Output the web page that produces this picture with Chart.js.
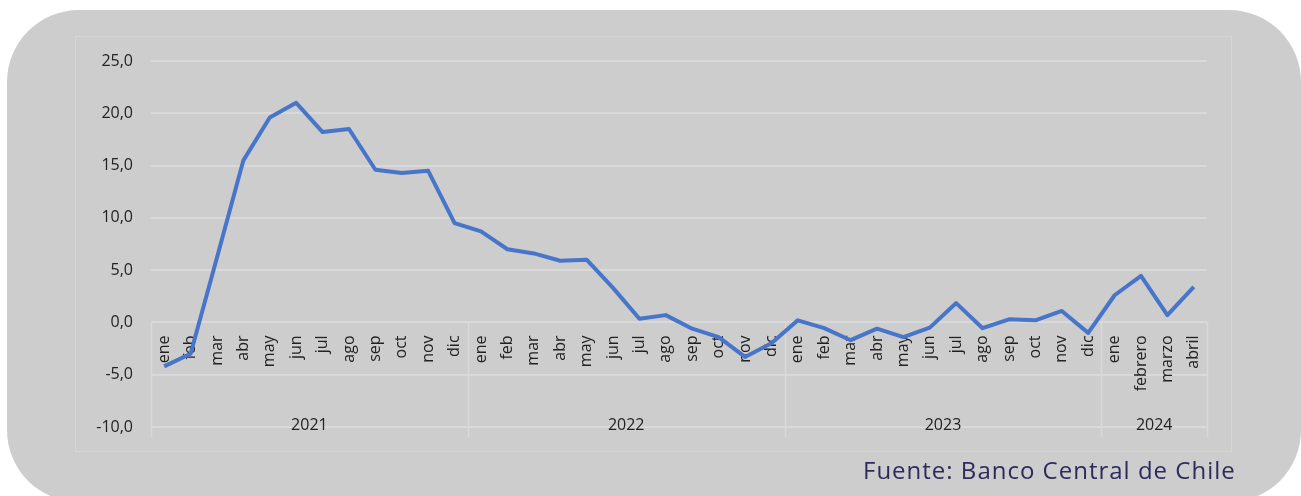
<!DOCTYPE html>
<html lang="es">
<head>
<meta charset="utf-8">
<title>Variación anual</title>
<script src="https://cdn.jsdelivr.net/npm/chart.js@4.4.1/dist/chart.umd.min.js"></script>
<style>
  html, body { margin: 0; padding: 0; background: #fff; width: 1301px; height: 496px; overflow: hidden; }
  .fondo { position: absolute; left: 7px; top: 10px; width: 1294px; height: 492px; background: #cdcdcd; border-radius: 72px; }
  .marco { position: absolute; left: 75px; top: 36px; width: 1155px; height: 414px; border: 1.5px solid #d6d6d6; }
  #grafico { position: absolute; left: 0; top: 0; }
  .fuente { position: absolute; left: 863px; top: 453px; font-family: 'Open Sans', sans-serif; font-size: 24px; letter-spacing: 1px; color: #2d2b5c; white-space: nowrap; }
</style>
</head>
<body>
<div class="fondo"></div>
<div class="marco"></div>
<canvas id="grafico" width="1301" height="496"></canvas>
<div class="fuente">Fuente: Banco Central de Chile</div>

<script>
// Datos del gráfico
const meses = [
    'ene','feb','mar','abr','may','jun','jul','ago','sep','oct','nov','dic',
    'ene','feb','mar','abr','may','jun','jul','ago','sep','oct','nov','dic',
    'ene','feb','mar','abr','may','jun','jul','ago','sep','oct','nov','dic',
    'ene','febrero','marzo','abril'
];
const anios = ['2021', '2022', '2023', '2024'];
const mesesPorAnio = [12, 12, 12, 4];
const variacion = [
    -4.2, -3.0, 6.2, 15.5, 19.6, 21.0, 18.2, 18.5, 14.6, 14.3, 14.5, 9.5,
    8.7, 7.0, 6.6, 5.9, 6.0, 3.3, 0.35, 0.7, -0.6, -1.4, -3.3, -2.0,
    0.2, -0.55, -1.7, -0.6, -1.4, -0.5, 1.85, -0.55, 0.3, 0.2, 1.1, -1.0,
    2.6, 4.45, 0.7, 3.4
];
const yMin = -10;
const yMax = 25;
const yPaso = 5;

const colorTexto = '#222222';
const colorGrilla = '#d9d9d9';

// Tabla de años bajo el eje de categorías
const tablaAnios = {
    id: 'tablaAnios',
    beforeDatasetsDraw(chart) {
        const { ctx, scales: { x, y } } = chart;
        const yArriba = y.getPixelForValue(0);
        const yAbajo = y.getPixelForValue(yMin) + 10;
        const yTexto = y.getPixelForValue(yMin) - 2;

        ctx.save();
        ctx.strokeStyle = colorGrilla;
        ctx.lineWidth = 1.5;
        ctx.fillStyle = colorTexto;
        ctx.font = '16px "Open Sans"';
        ctx.textAlign = 'center';
        ctx.textBaseline = 'middle';

        let inicio = 0;
        const bordes = [x.getPixelForValue(-0.5)];
        mesesPorAnio.forEach((n, i) => {
            const fin = inicio + n;
            const xIzq = x.getPixelForValue(inicio - 0.5);
            const xDer = x.getPixelForValue(fin - 0.5);
            bordes.push(xDer);
            ctx.fillText(anios[i], (xIzq + xDer) / 2, yTexto);
            inicio = fin;
        });

        bordes.forEach(bx => {
            ctx.beginPath();
            ctx.moveTo(Math.round(bx) + 0.5, yArriba);
            ctx.lineTo(Math.round(bx) + 0.5, yAbajo);
            ctx.stroke();
        });
        ctx.restore();
    }
};

const ctx = document.getElementById('grafico').getContext('2d');
new Chart(ctx, {
    type: 'line',
    data: {
        labels: meses,
        datasets: [{
            data: variacion,
            borderColor: '#4775c9',
            borderWidth: 4,
            borderJoinStyle: 'round',
            pointRadius: 0,
            tension: 0,
            fill: false
        }]
    },
    options: {
        responsive: false,
        animation: false,
        layout: { padding: { left: 75, right: 94, top: 61, bottom: 69 } },
        plugins: { legend: { display: false }, tooltip: { enabled: false } },
        scales: {
            x: {
                position: { y: 0 },
                offset: true,
                grid: { display: false, drawTicks: false },
                border: { display: false },
                ticks: {
                    autoSkip: false,
                    minRotation: 90,
                    maxRotation: 90,
                    padding: 13,
                    color: colorTexto,
                    font: { family: 'Open Sans', size: 16 }
                }
            },
            y: {
                min: yMin,
                max: yMax,
                afterFit: s => { s.width = 76; },
                grid: { color: colorGrilla, lineWidth: 2, drawTicks: false },
                border: { display: false },
                ticks: {
                    stepSize: yPaso,
                    padding: 18,
                    color: colorTexto,
                    font: { family: 'Open Sans', size: 16 },
                    callback: v => v.toFixed(1).replace('.', ',')
                }
            }
        }
    },
    plugins: [tablaAnios]
});
</script>
</body>
</html>
